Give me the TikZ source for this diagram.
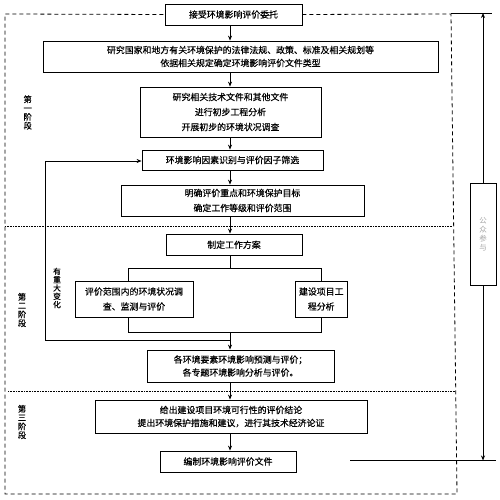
\documentclass[tikz,border=0pt]{standalone}
\usepackage{fontspec}
\newfontfamily\cjk[FakeBold=0.4]{Noto Sans CJK SC}
\newfontfamily\cjklight{Noto Sans CJK SC}
\usetikzlibrary{arrows.meta}
\tikzset{
  box/.style={draw, line width=0.8pt, inner sep=0pt, align=center, font=\cjk\fontsize{8.9}{15}\selectfont},
  tight/.style={font=\cjk\fontsize{8.9}{13}\selectfont},
  arr/.style={line width=0.8pt, -{Stealth[length=5pt,width=4pt]}},
  ln/.style={line width=0.8pt},
  outer/.style={line width=0.8pt, dash pattern=on 4pt off 3pt},
  dots/.style={line width=0.7pt, dash pattern=on 0.8pt off 0.8pt},
  stage/.style={align=center, inner sep=0pt, font=\cjk\fontsize{8.3}{8.8}\selectfont},
}
\begin{document}
\begin{tikzpicture}[x=1pt,y=-1pt]
\useasboundingbox (0,0) rectangle (500,500);
\coordinate (mx) at (230,0);
% main boxes
\node[box, minimum width=137pt, minimum height=21pt] (b1) at (233.5,14.5) {接受环境影响评价委托};
\node[box, tight, minimum width=395pt, minimum height=31pt] (b2) at (240.5,56.5) {研究国家和地方有关环境保护的法律法规、政策、标准及相关规划等\\依据相关规定确定环境影响评价文件类型};
\node[box, minimum width=181pt, minimum height=50pt] (b3) at (230.5,112) {研究相关技术文件和其他文件\\进行初步工程分析\\开展初步的环境状况调查};
\node[box, minimum width=181pt, minimum height=20pt] (b4) at (232.5,160) {环境影响因素识别与评价因子筛选};
\node[box, minimum width=243pt, minimum height=31pt] (b5) at (242.5,200.5) {明确评价重点和环境保护目标\\确定工作等级和评价范围};
\node[box, minimum width=136pt, minimum height=21.5pt] (b6) at (234,244.75) {制定工作方案};
\node[box, minimum width=118pt, minimum height=36pt] (b7) at (134,299) {评价范围内的环境状况调\\查、监测与评价};
\node[box, minimum width=51.5pt, minimum height=36pt] (b8) at (321.25,299) {建设项目工\\程分析};
\node[box, tight, minimum width=187pt, minimum height=32pt] (b9) at (240.5,366) {各环境要素环境影响预测与评价；\\各专题环境影响分析与评价。};
\node[box, tight, minimum width=272pt, minimum height=33pt] (b10) at (231,416.5) {给出建设项目环境可行性的评价结论\\提出环境保护措施和建议，进行其技术经济论证};
\node[box, minimum width=136pt, minimum height=21pt] (b11) at (228,461.5) {编制环境影响评价文件};
\node[box, minimum width=26pt, minimum height=102pt, text=gray!70, font=\cjklight\fontsize{7.5}{9}\selectfont] (pub) at (483,234) {公\\众\\参\\与};
% stage labels
\node[stage] (s1) at (27.7,112.5) {第\\一\\阶\\段};
\node[stage] (s2) at (22,310) {第\\二\\阶\\段};
\node[stage] (s3) at (22,422) {第\\三\\阶\\段};
\node[stage, font=\cjk\fontsize{7.8}{8.3}\selectfont] (chg) at (57,288) {有\\重\\大\\变\\化};
% main arrows
\draw[arr] (b1.south -| mx) -- (b2.north -| mx);
\draw[arr] (b2.south -| mx) -- (b3.north -| mx);
\draw[arr] (b3.south -| mx) -- (b4.north -| mx);
\draw[arr] (b4.south -| mx) -- (b5.north -| mx);
\draw[arr] (b5.south -| mx) -- (b6.north -| mx);
% branch
\coordinate (sp) at (230,268);
\coordinate (L) at (128,268);
\coordinate (R) at (321,268);
\coordinate (L2) at (128,332);
\coordinate (R2) at (321,332);
\coordinate (jn) at (230,332);
\draw[ln] (b6.south -| mx) -- (sp);
\draw[ln] (L) -- (R);
\draw[ln] (L) -- (L |- b7.north);
\draw[ln] (R) -- (R |- b8.north);
\draw[ln] (L |- b7.south) -- (L2) -- (R2) -- (R |- b8.south);
\draw[arr] (jn) -- (b9.north -| mx);
\draw[arr] (b9.south -| mx) -- (b10.north -| mx);
\draw[arr] (b10.south -| mx) -- (b11.north -| mx);
% feedback loop
\coordinate (fb0) at (230,340);
\coordinate (fb1) at (45,340);
\coordinate (fb2) at (45,161);
\draw[arr] (fb0) -- (fb1) -- (fb2) -- (fb2 -| b4.west);
% outer dashed frame
\coordinate (o1) at (451,14);
\coordinate (o2) at (457,494);
\coordinate (o3) at (5,494);
\coordinate (o4) at (5,14);
\draw[outer] (b1.east) -- (o1) -- (o2) -- (o3) -- (o4) -- (b1.west);
% dotted stage separators
\coordinate (d1a) at (5,226);
\coordinate (d1b) at (452.5,226);
\coordinate (d2a) at (8,391.5);
\coordinate (d2b) at (455.5,391.5);
\draw[dots] (d1a) -- (d1b);
\draw[dots] (d2a) -- (d2b);
% public participation
\coordinate (pt) at (483,13);
\coordinate (pb) at (483,460.5);
\coordinate (tl) at (451,13);
\coordinate (tr) at (492,13);
\coordinate (bl) at (350,460.5);
\coordinate (br) at (496,460.5);
\draw[ln] (tl) -- (tr);
\draw[ln] (bl) -- (br);
\draw[arr] (pub.north) -- (pt);
\draw[arr] (pub.south) -- (pb);
\end{tikzpicture}
\end{document}
